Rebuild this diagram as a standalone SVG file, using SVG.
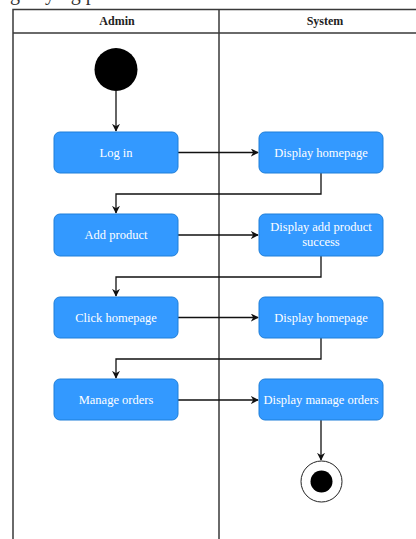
<svg xmlns="http://www.w3.org/2000/svg" width="416" height="539" viewBox="0 0 416 539">
  <style>
    .lane { fill: none; stroke: #3a3a3a; stroke-width: 1.5; }
    .head { font-family: "Liberation Serif", "Times New Roman", serif; font-size: 12px; font-weight: bold; fill: #222; text-anchor: middle; }
    .act { fill: #3399ff; stroke: #1f7fd9; stroke-width: 1; }
    .lbl { font-family: "Liberation Serif", "Times New Roman", serif; font-size: 12.5px; fill: #ffffff; text-anchor: middle; }
    .edge { fill: none; stroke: #111; stroke-width: 1.3; marker-end: url(#arrow); }
  </style>
  <defs>
    <marker id="arrow" viewBox="0 0 10 10" refX="9" refY="5" markerWidth="8" markerHeight="8" markerUnits="userSpaceOnUse" orient="auto">
      <path d="M0,0 L10,5 L0,10 L3,5 Z" fill="#111"/>
    </marker>
  </defs>
  <rect width="416" height="539" fill="#ffffff"/>

  <!-- caption line above the swimlanes (only its lower edge is in view) -->
  <text x="-61" y="-0.5" font-family="Liberation Serif, Times New Roman, serif" font-size="20" fill="#333">Managing buying product website</text>

  <!-- swimlanes -->
  <g id="lanes">
    <path class="lane" d="M13,539 V9.5 H420 M13,33 H420 M219,9.5 V539"/>
    <text class="head" x="117" y="25">Admin</text>
    <text class="head" x="325" y="25">System</text>
  </g>

  <!-- connectors -->
  <g id="connectors">
    <path class="edge" d="M116,91 V131"/>
    <path class="edge" d="M178,152.5 H258"/>
    <path class="edge" d="M321,173 V194 H116 V213"/>
    <path class="edge" d="M178,235 H258"/>
    <path class="edge" d="M321,256 V277 H116 V296"/>
    <path class="edge" d="M178,317.5 H258"/>
    <path class="edge" d="M321,338 V359 H116 V378"/>
    <path class="edge" d="M178,400 H258"/>
    <path class="edge" d="M321,420 V460"/>
  </g>

  <!-- start -->
  <g id="start">
    <circle cx="116" cy="69.5" r="21.5" fill="#000"/>
  </g>

  <!-- Admin lane -->
  <g id="login">
    <rect class="act" x="54" y="132" width="124" height="41" rx="6"/>
    <text class="lbl" x="116" y="156.5">Log in</text>
  </g>
  <g id="add-product">
    <rect class="act" x="54" y="214" width="124" height="42" rx="6"/>
    <text class="lbl" x="116" y="239">Add product</text>
  </g>
  <g id="click-homepage">
    <rect class="act" x="54" y="297" width="124" height="41" rx="6"/>
    <text class="lbl" x="116" y="321.5">Click homepage</text>
  </g>
  <g id="manage-orders">
    <rect class="act" x="54" y="379" width="124" height="41" rx="6"/>
    <text class="lbl" x="116" y="403.5">Manage orders</text>
  </g>

  <!-- System lane -->
  <g id="display-homepage-1">
    <rect class="act" x="259" y="132" width="124" height="41" rx="6"/>
    <text class="lbl" x="321" y="156.5">Display homepage</text>
  </g>
  <g id="display-add-success">
    <rect class="act" x="259" y="214" width="124" height="42" rx="6"/>
    <text class="lbl" x="321" y="231">Display add product</text>
    <text class="lbl" x="321" y="246">success</text>
  </g>
  <g id="display-homepage-2">
    <rect class="act" x="259" y="297" width="124" height="41" rx="6"/>
    <text class="lbl" x="321" y="321.5">Display homepage</text>
  </g>
  <g id="display-manage-orders">
    <rect class="act" x="259" y="379" width="124" height="41" rx="6"/>
    <text class="lbl" x="321" y="403.5">Display manage orders</text>
  </g>

  <!-- end -->
  <g id="end">
    <circle cx="321.5" cy="481.5" r="20.5" fill="#fff" stroke="#222" stroke-width="1"/>
    <circle cx="321.5" cy="481.5" r="11" fill="#000"/>
  </g>
</svg>
